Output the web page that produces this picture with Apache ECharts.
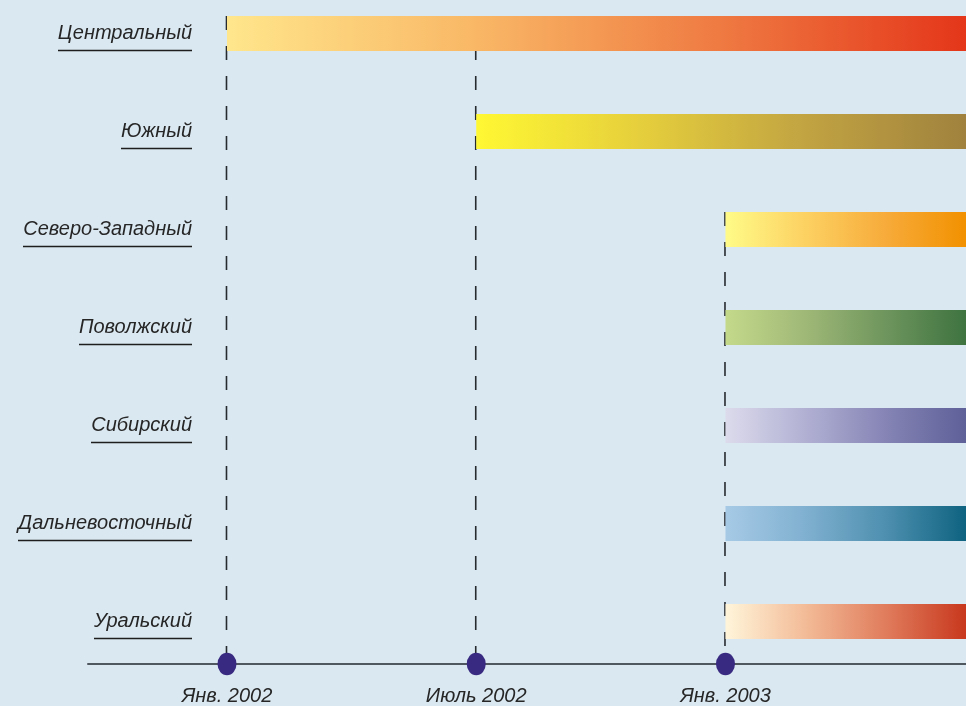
<!DOCTYPE html>
<html>
<head>
<meta charset="utf-8">
<script src="https://cdn.jsdelivr.net/npm/echarts@6/dist/echarts.min.js"></script>
<style>
html,body{margin:0;padding:0;background:#dae8f1;}
#chart{width:966px;height:706px;}
</style>
</head>
<body>
<div id="chart"></div>
<script>
// ---- data ----
const regions = ['Центральный','Южный','Северо-Западный','Поволжский','Сибирский','Дальневосточный','Уральский'];
const startMonths = [0, 6, 12, 12, 12, 12, 12];      // months since Jan 2002
const endMonths = [18, 18, 18, 18, 18, 18, 18];
const tickValues = [0, 6, 12];
const tickLabels = ['Янв. 2002', 'Июль 2002', 'Янв. 2003'];
const milestoneMonths = [0, 6, 12];
const milestoneFirstRow = [0, 0, 2];
const barGradients = [
  ['#ffe68c', '#f9b866', '#ef7a42', '#e4361a'],
  ['#fff833', '#e6cf3c', '#c2a442', '#a0823e'],
  ['#fffb88', '#fcd162', '#f7ab3a', '#f29100'],
  ['#c4d98a', '#9fb877', '#6e955d', '#3e7340'],
  ['#dcdbec', '#b1b0d3', '#8584b5', '#5e6098'],
  ['#a6cae6', '#80b0d0', '#4e8faf', '#0e6380'],
  ['#fff5da', '#f3bb97', '#e07c5c', '#c8381e']
];

const FONT = "'Liberation Sans', Arial, sans-serif";
const chart = echarts.init(document.getElementById('chart'));

// measure label widths for underline
const cv = document.createElement('canvas').getContext('2d');
cv.font = 'italic 20px ' + FONT;
const rich = {
  s: {lineHeight: 10, fontSize: 1, align: 'right'},
  t: {fontSize: 20, fontStyle: 'italic', fontFamily: FONT, color: '#262626', lineHeight: 24, align: 'right'}
};
regions.forEach((r, i) => {
  rich['u' + i] = {width: Math.round(cv.measureText(r).width) - 2, height: 1.6, lineHeight: 10, fontSize: 1,
    backgroundColor: '#1e1e1e', align: 'right', padding: [0, 2, 0, 0]};
});

const BAR_H = 35;

chart.setOption({
  backgroundColor: '#dae8f1',
  animation: false,
  grid: {left: 88, right: 0, top: 0, height: 664},
  xAxis: {
    type: 'value', min: -3.346, max: 17.79,
    splitLine: {show: false}, axisTick: {show: false},
    axisLine: {show: true, onZero: false, lineStyle: {color: '#50585f', width: 2}},
    axisLabel: {
      customValues: tickValues, margin: 22,
      fontSize: 20, fontStyle: 'italic', fontFamily: FONT, color: '#262626',
      formatter: v => tickLabels[tickValues.indexOf(Math.round(v))] || ''
    }
  },
  yAxis: {
    type: 'value', inverse: true, min: -0.3418, max: 6.4337,
    offset: -104,
    splitLine: {show: false}, axisTick: {show: false}, axisLine: {show: false},
    axisLabel: {
      customValues: regions.map((r, i) => i), margin: 0,
      formatter: v => { const i = Math.round(v); return '{s| }\n{t|' + regions[i] + '}\n{u' + i + '| }'; },
      rich: rich
    }
  },
  series: [
    {
      type: 'custom', z: 1,
      data: milestoneMonths.map((m, k) => [m, milestoneFirstRow[k]]),
      encode: {x: 0, y: 1},
      renderItem: function (params, api) {
        const p = api.coord([api.value(0), api.value(1)]);
        const bottom = params.coordSys.y + params.coordSys.height;
        return {
          type: 'line',
          shape: {x1: p[0] - 0.5, y1: p[1] - BAR_H / 2, x2: p[0] - 0.5, y2: bottom},
          style: {stroke: '#262b30', lineWidth: 1.6, lineDash: [14, 16]}
        };
      }
    },
    {
      type: 'custom', z: 2,
      data: regions.map((r, i) => [startMonths[i], i, endMonths[i]]),
      encode: {x: [0, 2], y: 1},
      renderItem: function (params, api) {
        const i = params.dataIndex;
        const s = api.coord([api.value(0), api.value(1)]);
        const e = api.coord([api.value(2), api.value(1)]);
        const right = Math.min(e[0], params.coordSys.x + params.coordSys.width);
        const cols = barGradients[i];
        return {
          type: 'rect',
          shape: {x: s[0], y: s[1] - BAR_H / 2, width: right - s[0], height: BAR_H},
          style: {
            fill: new echarts.graphic.LinearGradient(0, 0, 1, 0,
              cols.map((c, j) => ({offset: j / (cols.length - 1), color: c})))
          }
        };
      }
    },
    {
      type: 'custom', z: 3,
      data: milestoneMonths.map(m => [m]),
      encode: {x: 0},
      renderItem: function (params, api) {
        const p = api.coord([api.value(0), 0]);
        const bottom = params.coordSys.y + params.coordSys.height;
        return {
          type: 'circle', x: p[0], y: bottom, scaleX: 0.95, scaleY: 1.12,
          shape: {cx: 0, cy: 0, r: 10},
          style: {fill: '#382a80'}
        };
      }
    }
  ]
});
</script>
</body>
</html>
